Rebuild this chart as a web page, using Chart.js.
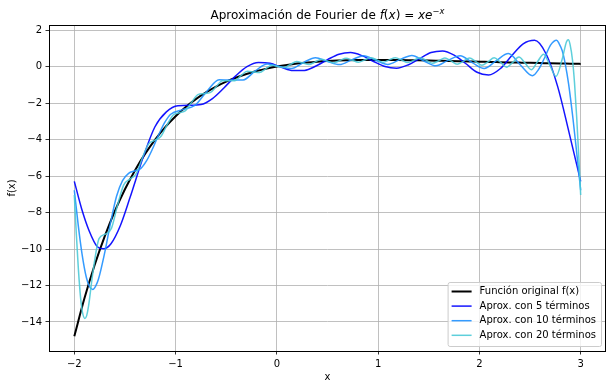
<!DOCTYPE html>
<html>
<head>
<meta charset="utf-8">
<script src="https://cdn.jsdelivr.net/npm/chart.js@4.4.1/dist/chart.umd.min.js"></script>
<style>
  html, body { margin: 0; padding: 0; background: #fff; }
  #wrap { width: 614px; height: 389px; }
</style>
</head>
<body>
<div id="wrap"><canvas id="grafico" width="614" height="389"></canvas></div>
<script>
// ===============================
// Dados
// ===============================

// função original f(x) = x e^-x
const xOriginal = [-2, -1.9, -1.8, -1.7, -1.6, -1.5, -1.4, -1.3, -1.2, -1.1, -1, -0.9, -0.8, -0.7, -0.6, -0.5, -0.4, -0.3, -0.2, -0.1,
  0, 0.1, 0.2, 0.3, 0.4, 0.5, 0.6, 0.7, 0.8, 0.9, 1, 1.1, 1.2, 1.3, 1.4, 1.5, 1.6, 1.7, 1.8, 1.9,
  2, 2.1, 2.2, 2.3, 2.4, 2.5, 2.6, 2.7, 2.8, 2.9, 3];
const yOriginal = [-14.778, -12.703, -10.890, -9.306, -7.924, -6.723, -5.677, -4.770, -3.984, -3.304, -2.718, -2.214, -1.780, -1.410, -1.093, -0.824, -0.597, -0.405, -0.244, -0.111,
  0, 0.090, 0.164, 0.222, 0.268, 0.303, 0.329, 0.348, 0.359, 0.366, 0.368, 0.366, 0.361, 0.354, 0.345, 0.335, 0.323, 0.311, 0.298, 0.284,
  0.271, 0.257, 0.244, 0.231, 0.218, 0.205, 0.193, 0.181, 0.170, 0.160, 0.149];

// 5 termos
const x5 = [-2, -1.928, -1.855, -1.773, -1.711, -1.638, -1.545, -1.45, -1.318, -1.205, -1.091, -0.977, -0.864, -0.75, -0.636, -0.523, -0.409, -0.295, -0.182, -0.068,
  0.045, 0.159, 0.273, 0.386, 0.5, 0.614, 0.727, 0.841, 0.955, 1.068, 1.182, 1.295, 1.409, 1.523, 1.636, 1.75, 1.864, 1.977, 2.091, 2.205,
  2.318, 2.432, 2.545, 2.659, 2.773, 2.886, 3];
const y5 = [-6.29, -7.79, -8.98, -9.87, -9.99, -9.71, -8.71, -7.18, -4.93, -3.31, -2.48, -2.14, -2.12, -2.08, -1.75, -1.17, -0.52, 0.00, 0.23, 0.18,
  -0.04, -0.22, -0.21, 0.03, 0.38, 0.68, 0.77, 0.60, 0.28, 0.00, -0.09, 0.09, 0.44, 0.77, 0.86, 0.63, 0.17, -0.31, -0.46, -0.12,
  0.59, 1.25, 1.44, 0.69, -1.10, -3.63, -6.29];

// 10 termos
const x10 = [-2, -1.962, -1.924, -1.881, -1.848, -1.818, -1.788, -1.762, -1.702, -1.643, -1.583, -1.524, -1.464, -1.405, -1.345, -1.286, -1.226, -1.167, -1.107, -1.048,
  -0.929, -0.81, -0.69, -0.571, -0.452, -0.333, -0.214, -0.095, 0.024, 0.143, 0.262, 0.381, 0.5, 0.619, 0.738, 0.857, 0.976, 1.095, 1.214, 1.333,
  1.452, 1.571, 1.69, 1.81, 1.929, 2.048, 2.167, 2.286, 2.405, 2.524, 2.583, 2.643, 2.702, 2.762, 2.788, 2.818, 2.848, 2.881, 2.924, 2.962, 3];
const y10 = [-6.78, -8.66, -10.26, -11.56, -12.08, -12.22, -12.02, -11.66, -10.25, -8.59, -7.11, -6.25, -5.85, -5.72, -5.59, -5.16, -4.49, -3.74, -3.06, -2.61,
  -2.36, -2.13, -1.35, -0.72, -0.74, -0.73, -0.24, 0.14, 0.00, -0.11, 0.22, 0.49, 0.28, 0.11, 0.37, 0.60, 0.35, 0.12, 0.38, 0.61,
  0.31, 0.04, 0.34, 0.60, 0.22, -0.10, 0.33, 0.72, 0.09, -0.50, -0.17, 0.47, 1.18, 1.45, 1.25, 0.87, 0.14, -0.96, -2.86, -4.79, -6.78];

// 20 termos
const x20 = [-2, -1.98, -1.96, -1.939, -1.92, -1.895, -1.878, -1.86, -1.817, -1.756, -1.695, -1.634, -1.573, -1.512, -1.451, -1.39, -1.329, -1.268, -1.207, -1.146,
  -1.085, -1.024, -0.963, -0.902, -0.841, -0.78, -0.72, -0.659, -0.598, -0.537, -0.476, -0.415, -0.354, -0.293, -0.232, -0.171, -0.11, -0.049, 0.012, 0.073,
  0.134, 0.195, 0.256, 0.317, 0.378, 0.439, 0.5, 0.561, 0.622, 0.683, 0.744, 0.805, 0.866, 0.927, 0.988, 1.049, 1.11, 1.171, 1.232, 1.293,
  1.354, 1.415, 1.476, 1.537, 1.598, 1.659, 1.72, 1.78, 1.841, 1.902, 1.963, 2.024, 2.085, 2.146, 2.207, 2.268, 2.329, 2.39, 2.451, 2.512,
  2.573, 2.634, 2.695, 2.756, 2.817, 2.86, 2.878, 2.895, 2.92, 2.939, 2.96, 2.98, 3];
const y20 = [-7.04, -9.20, -11.09, -12.62, -13.46, -13.81, -13.65, -13.15, -11.31, -9.43, -9.19, -8.87, -7.59, -6.48, -6.17, -5.88, -5.02, -4.25, -4.04, -3.83,
  -3.21, -2.65, -2.53, -2.41, -1.95, -1.54, -1.48, -1.43, -1.09, -0.77, -0.77, -0.77, -0.50, -0.26, -0.29, -0.33, -0.12, 0.07, 0.01, -0.05,
  0.12, 0.28, 0.20, 0.11, 0.26, 0.40, 0.30, 0.20, 0.33, 0.46, 0.35, 0.24, 0.36, 0.49, 0.37, 0.24, 0.37, 0.49, 0.36, 0.22,
  0.35, 0.48, 0.34, 0.18, 0.32, 0.47, 0.31, 0.13, 0.29, 0.47, 0.28, 0.07, 0.26, 0.48, 0.24, -0.03, 0.23, 0.52, 0.19, -0.17,
  0.26, 0.68, 0.08, -0.54, 0.40, 1.36, 1.47, 1.22, 0.32, -0.88, -2.72, -4.81, -7.04];

const xTicks = [-2, -1, 0, 1, 2, 3];
const yTicks = [2, 0, -2, -4, -6, -8, -10, -12, -14];
const nomes = ['Función original f(x)', 'Aprox. con 5 términos', 'Aprox. con 10 términos', 'Aprox. con 20 términos'];
const cores = ['#000000', 'rgba(0,0,255,0.92)', 'rgba(30,144,255,0.9)', 'rgba(72,200,214,0.88)'];
const larguras = [2, 1.5, 1.5, 1.5];

// ===============================
// Funções utilitárias
// ===============================
function pontos(xs, ys) {
  return xs.map((x, i) => ({ x: x, y: ys[i] }));
}

function rotulo(v) {
  return v < 0 ? '\u2212' + Math.abs(v) : String(v);
}

const fonte = '"DejaVu Sans", sans-serif';
Chart.defaults.font.family = fonte;

function desenharTitulo(ctx, cx, base) {
  const n = '12px ' + fonte, it = 'italic 12px ' + fonte;
  const sn = '8.4px ' + fonte, si = 'italic 8.4px ' + fonte;
  const partes = [
    { t: 'Aproximación de Fourier de ', f: n, dy: 0 },
    { t: 'f', f: it, dy: 0 }, { t: '(', f: n, dy: 0 }, { t: 'x', f: it, dy: 0 }, { t: ')', f: n, dy: 0 },
    { t: ' = ', f: n, dy: 0 }, { t: 'x', f: it, dy: 0 }, { t: 'e', f: it, dy: 0 },
    { t: '\u2212', f: sn, dy: -5 }, { t: 'x', f: si, dy: -5 }
  ];
  let total = 0;
  partes.forEach(p => { ctx.font = p.f; p.w = ctx.measureText(p.t).width; total += p.w; });
  let x = cx - total / 2;
  ctx.fillStyle = '#000';
  ctx.textAlign = 'left';
  ctx.textBaseline = 'alphabetic';
  partes.forEach(p => { ctx.font = p.f; ctx.fillText(p.t, x, base + p.dy); x += p.w; });
}

// moldura, títulos e legenda no estilo matplotlib
const moldura = {
  id: 'moldura',
  afterDraw(chart) {
    const ctx = chart.ctx;
    const a = chart.chartArea;
    ctx.save();

    ctx.strokeStyle = '#000';
    ctx.lineWidth = 1;
    ctx.strokeRect(Math.round(a.left) + 0.5, Math.round(a.top) + 0.5, Math.round(a.right - a.left) - 1, Math.round(a.bottom - a.top));

    desenharTitulo(ctx, (a.left + a.right) / 2, a.top - 6);

    ctx.font = '10px ' + fonte;
    ctx.fillStyle = '#000';
    ctx.textAlign = 'center';
    ctx.textBaseline = 'alphabetic';
    ctx.fillText('x', (a.left + a.right) / 2, 379.5);

    ctx.save();
    ctx.translate(12, (a.top + a.bottom) / 2);
    ctx.rotate(-Math.PI / 2);
    ctx.textBaseline = 'middle';
    ctx.fillText('f(x)', 0, 0);
    ctx.restore();

    // legenda
    ctx.font = '10px ' + fonte;
    const largTexto = Math.max(...nomes.map(t => ctx.measureText(t).width));
    const largura = 4 + 20 + 8 + largTexto + 5;
    const altura = 64;
    const dir = a.right - 5, baixo = a.bottom - 5;
    const esq = dir - largura, topo = baixo - altura;
    ctx.beginPath();
    if (ctx.roundRect) ctx.roundRect(esq + 0.5, topo + 0.5, largura, altura, 2);
    else ctx.rect(esq + 0.5, topo + 0.5, largura, altura);
    ctx.fillStyle = 'rgba(255,255,255,0.8)';
    ctx.fill();
    ctx.strokeStyle = '#cccccc';
    ctx.lineWidth = 1;
    ctx.stroke();

    nomes.forEach((nome, i) => {
      const y = topo + 9.5 + i * 14.6;
      ctx.beginPath();
      ctx.moveTo(esq + 4, y);
      ctx.lineTo(esq + 24, y);
      ctx.strokeStyle = cores[i];
      ctx.lineWidth = larguras[i];
      ctx.stroke();
      ctx.fillStyle = '#000';
      ctx.textAlign = 'left';
      ctx.textBaseline = 'middle';
      ctx.fillText(nome, esq + 32, y);
    });

    ctx.restore();
  }
};

// ===============================
// Gráfico
// ===============================
const series = [
  [x5, y5], [x10, y10], [x20, y20]
];

const datasets = [{
  label: nomes[0],
  data: pontos(xOriginal, yOriginal),
  borderColor: cores[0],
  borderWidth: larguras[0],
  order: 3
}].concat(series.map((s, i) => ({
  label: nomes[i + 1],
  data: pontos(s[0], s[1]),
  borderColor: cores[i + 1],
  borderWidth: larguras[i + 1],
  order: 2 - i
})));

datasets.forEach(d => {
  d.pointRadius = 0;
  d.fill = false;
  d.cubicInterpolationMode = 'monotone';
});

const grade = { color: '#b0b0b0', lineWidth: 0.8, tickColor: '#000', tickLength: 3.5, tickWidth: 0.8 };

new Chart(document.getElementById('grafico'), {
  type: 'line',
  data: { datasets: datasets },
  options: {
    responsive: false,
    animation: false,
    devicePixelRatio: 1,
    layout: { padding: { left: 0, top: 25, right: 8, bottom: 0 } },
    plugins: { legend: { display: false }, title: { display: false }, tooltip: { enabled: false } },
    scales: {
      x: {
        type: 'linear',
        min: -2.25,
        max: 3.25,
        afterBuildTicks: s => { s.ticks = xTicks.map(v => ({ value: v })); },
        afterFit: s => { s.height = 38; },
        grid: grade,
        border: { display: false },
        ticks: { color: '#000', font: { size: 10 }, padding: 3.5, maxRotation: 0, autoSkip: false, callback: rotulo }
      },
      y: {
        type: 'linear',
        min: -15.59,
        max: 2.28,
        afterBuildTicks: s => { s.ticks = yTicks.map(v => ({ value: v })); },
        afterFit: s => { s.width = 49; },
        grid: grade,
        border: { display: false },
        ticks: { color: '#000', font: { size: 10 }, padding: 3.5, autoSkip: false, callback: rotulo }
      }
    }
  },
  plugins: [moldura]
});
</script>
</body>
</html>
